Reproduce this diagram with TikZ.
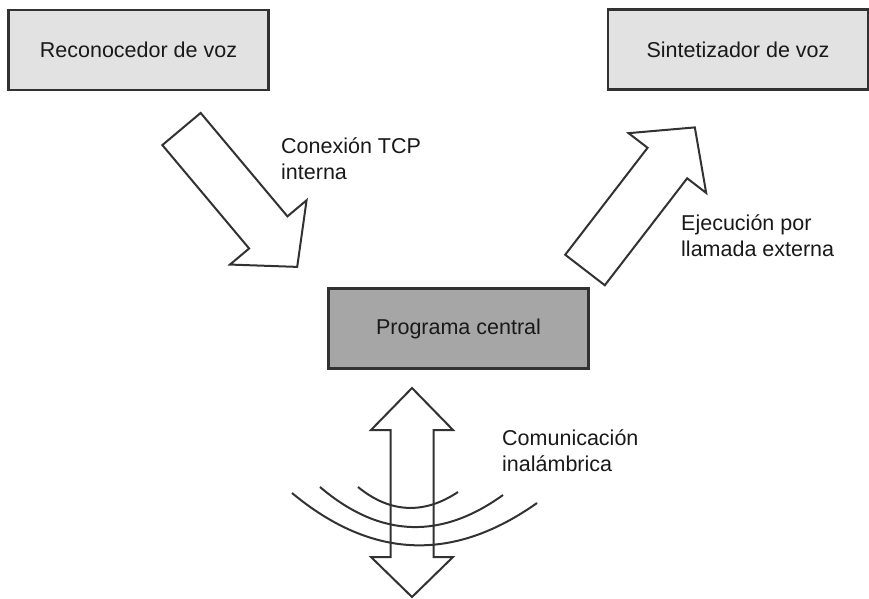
\documentclass[tikz,border=0pt]{standalone}
\usepackage{fontspec}
\setmainfont{Liberation Sans}
\definecolor{boxlight}{RGB}{226,226,226}
\definecolor{boxdark}{RGB}{166,166,166}
\definecolor{edgegray}{RGB}{50,50,50}
\definecolor{textgray}{RGB}{25,25,25}
\usepackage{tikz}
\usetikzlibrary{positioning}

\tikzset{
  module/.style={draw=edgegray, line width=2.5pt, minimum width=260pt,
    minimum height=80pt, inner sep=0pt, text=textgray,
    font=\fontsize{21.5}{25}\selectfont},
  blockarrow/.style={draw=edgegray, line width=2pt, fill=white, line join=miter},
  note/.style={anchor=base west, align=left, inner sep=0pt, text=textgray,
    font=\fontsize{21.5}{25.5}\selectfont},
  wave/.style={draw=edgegray, line width=2pt}
}

\begin{document}
\begin{tikzpicture}[x=1pt,y=-1pt]
  \useasboundingbox (0,0) rectangle (869,598);
  % the three modules
  \node[module, fill=boxlight] (reco) at (138.5,50) {Reconocedor de voz};
  \node[module, fill=boxlight] (sint) at (738,49.5) {Sintetizador de voz};
  \node[module, fill=boxdark] (prog) at (458.5,328.5) {Programa central};
  % block arrows
  \begin{scope}[shift={(181.5,129)}, rotate=-50]
    \draw[blockarrow] (0,-25) -- (135,-25) -- (135,-50) -- (180,0)
      -- (135,50) -- (135,25) -- (0,25) -- cycle;
  \end{scope}
  \begin{scope}[shift={(585,270)}, rotate=52.4]
    \draw[blockarrow] (0,-25) -- (135,-25) -- (135,-49) -- (180,0)
      -- (135,49) -- (135,25) -- (0,25) -- cycle;
  \end{scope}
  \draw[blockarrow] (412,388) -- (453,430) -- (433.5,430) -- (433.5,557)
    -- (453,557) -- (412,597) -- (371,557) -- (390.5,557) -- (390.5,430)
    -- (371,430) -- cycle;
  % radio waves
  \draw[wave] (358,487) .. controls (391,514) and (425,514) .. (458,492);
  \draw[wave] (320,487) .. controls (381,539) and (442,539) .. (503,495);
  \draw[wave] (292,493) .. controls (374,561) and (455,561) .. (537,503);
  % labels (base = last line)
  \node[note] (tcp) at (281,179) {Conexión TCP\\interna};
  \node[note] (ejec) at (681,256) {Ejecución por\\llamada externa};
  \node[note] (inal) at (502,471) {Comunicación\\inalámbrica};
\end{tikzpicture}
\end{document}
